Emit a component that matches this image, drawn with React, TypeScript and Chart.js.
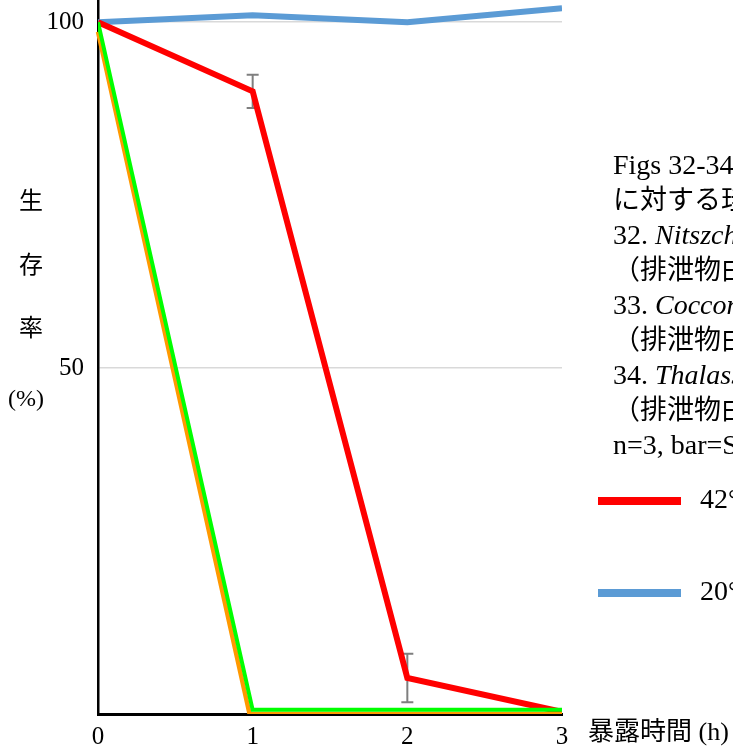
import React, { useEffect, useRef } from "react";
import { Chart, registerables } from "chart.js";

Chart.register(...registerables);

const hours = [0, 1, 2, 3];
const orangeHours = [0, 0.98, 2, 3];
const xTickLabels = ["0", "1", "2", "3"];
const yTickValues = [50, 100];
const red42 = [100, 90.0, 5.2, 0.3];
const red42Err = [0, 2.4, 3.5, 0];
const blue20 = [100, 101.0, 100.0, 102.0];
const green42 = [100, 0.6, 0.6, 0.6];
const orange42 = [98.6, 0, 0, 0];
const legendLabels = ["42°C", "20°C"];
const noteLines = [
  [{ t: "Figs 32-34. ", i: false }, { t: "高温暴露に対する珪藻の生存率", i: false, cjk: true }],
  [{ t: "に対する珪藻の生存率", i: false, cjk: true }],
  [{ t: "32. ", i: false }, { t: "Nitszchia", i: true }, { t: " sp.", i: false }],
  [{ t: "（排泄物由来）", i: false, cjk: true }],
  [{ t: "33. ", i: false }, { t: "Cocconeis", i: true }, { t: " sp.", i: false }],
  [{ t: "（排泄物由来）", i: false, cjk: true }],
  [{ t: "34. ", i: false }, { t: "Thalassiosira", i: true }, { t: " sp.", i: false }],
  [{ t: "（排泄物由来）", i: false, cjk: true }],
  [{ t: "n=3, bar=SD", i: false }],
];
const yTitleChars = ["生", "存", "率", "(%)"];
const xTitle = "暴露時間 (h)";

const SERIF = '"Liberation Serif", "Noto Sans CJK JP", serif';

const overlayPlugin = {
  id: "overlay",
  beforeDatasetsDraw(chart: any) {
    const ctx = chart.ctx;
    const xs = chart.scales.x;
    const ys = chart.scales.y;
    ctx.save();
    ctx.strokeStyle = "#7f7f7f";
    ctx.lineWidth = 2;
    hours.forEach((h, i) => {
      const e = red42Err[i];
      if (!e) return;
      const px = xs.getPixelForValue(h);
      const top = ys.getPixelForValue(red42[i] + e);
      const bot = ys.getPixelForValue(red42[i] - e);
      ctx.beginPath();
      ctx.moveTo(px, top);
      ctx.lineTo(px, bot);
      ctx.moveTo(px - 6, top);
      ctx.lineTo(px + 6, top);
      ctx.moveTo(px - 6, bot);
      ctx.lineTo(px + 6, bot);
      ctx.stroke();
    });
    ctx.restore();
  },
  afterDraw(chart: any) {
    const ctx = chart.ctx;
    ctx.save();
    ctx.fillStyle = "#000";
    ctx.textBaseline = "alphabetic";
    const x0 = 613;
    noteLines.forEach((line: any[], li) => {
      let x = x0;
      const y = 174 + li * 35;
      line.forEach((seg) => {
        ctx.font = (seg.i ? "italic " : "") + (seg.cjk ? "27px " : "28px ") + SERIF;
        ctx.fillText(seg.t, x, y);
        x += ctx.measureText(seg.t).width;
      });
    });
    const legendColors = ["#ff0000", "#5b9bd5"];
    const legendY = [501, 593];
    legendLabels.forEach((lab, i) => {
      ctx.strokeStyle = legendColors[i];
      ctx.lineWidth = 8;
      ctx.beginPath();
      ctx.moveTo(598, legendY[i]);
      ctx.lineTo(681, legendY[i]);
      ctx.stroke();
      ctx.font = "28px " + SERIF;
      ctx.textBaseline = "middle";
      ctx.fillText(lab, 700, legendY[i]);
    });
    ctx.textAlign = "center";
    ctx.textBaseline = "middle";
    ctx.font = "24px " + SERIF;
    const yPos = [203, 267, 330, 400];
    const xPos = [31, 31, 31, 26];
    yTitleChars.forEach((c, i) => ctx.fillText(c, xPos[i], yPos[i]));
    ctx.textAlign = "left";
    ctx.font = "26px " + SERIF;
    ctx.fillText(xTitle, 588, 733);
    ctx.restore();
  },
};

export default function App() {
  const ref = useRef<HTMLCanvasElement | null>(null);
  useEffect(() => {
    document.body.style.margin = "0";
    const canvas = ref.current!;
    const chart = new Chart(canvas, {
      type: "line",
      data: {
        datasets: [
          {
            label: "green",
            data: hours.map((h, i) => ({ x: h, y: green42[i] })),
            borderColor: "#00ff00",
            borderWidth: 4,
            order: 1,
          },
          {
            label: "orange",
            data: orangeHours.map((h, i) => ({ x: h, y: orange42[i] })),
            borderColor: "#ff9900",
            borderWidth: 4.5,
            order: 2,
            clip: { left: 5, top: 5, right: 5, bottom: 0 },
          },
          {
            label: legendLabels[0],
            data: hours.map((h, i) => ({ x: h, y: red42[i] })),
            borderColor: "#ff0000",
            borderWidth: 6,
            order: 3,
          },
          {
            label: legendLabels[1],
            data: hours.map((h, i) => ({ x: h, y: blue20[i] })),
            borderColor: "#5b9bd5",
            borderWidth: 6,
            order: 4,
          },
        ] as any,
      },
      options: {
        animation: false,
        responsive: false,
        maintainAspectRatio: false,
        devicePixelRatio: 1,
        elements: { point: { radius: 0 }, line: { tension: 0, borderCapStyle: "butt" } },
        layout: { padding: { left: 0, right: 171, top: 0, bottom: 0 } },
        plugins: { legend: { display: false }, tooltip: { enabled: false }, title: { display: false } },
        scales: {
          x: {
            type: "linear",
            min: 0,
            max: 3,
            afterFit: (s: any) => {
              s.height = 35;
              s.paddingLeft = 0;
              s.paddingRight = 0;
            },
            afterBuildTicks: (s: any) => { s.ticks = hours.map((h) => ({ value: h })); },
            grid: { display: false, drawTicks: false },
            border: { display: true, color: "#000", width: 3 },
            ticks: {
              callback: (v: any) => xTickLabels[hours.indexOf(Number(v))] ?? "",
              color: "#000",
              font: { family: SERIF, size: 25 },
              padding: 8,
              maxRotation: 0,
            },
          },
          y: {
            type: "linear",
            min: 0,
            max: 103.2,
            afterFit: (s: any) => {
              s.width = 98;
              s.paddingTop = 0;
              s.paddingBottom = 0;
            },
            afterBuildTicks: (s: any) => { s.ticks = yTickValues.map((v) => ({ value: v })); },
            grid: { color: "#d9d9d9", lineWidth: 1.5, drawTicks: false },
            border: { display: true, color: "#000", width: 2.5 },
            ticks: {
              color: "#000",
              font: { family: SERIF, size: 25 },
              padding: 14,
            },
          },
        },
      },
      plugins: [overlayPlugin],
    } as any);
    return () => chart.destroy();
  }, []);
  return <canvas ref={ref} width={733} height={749} style={{ display: "block", width: 733, height: 749 }} />;
}
